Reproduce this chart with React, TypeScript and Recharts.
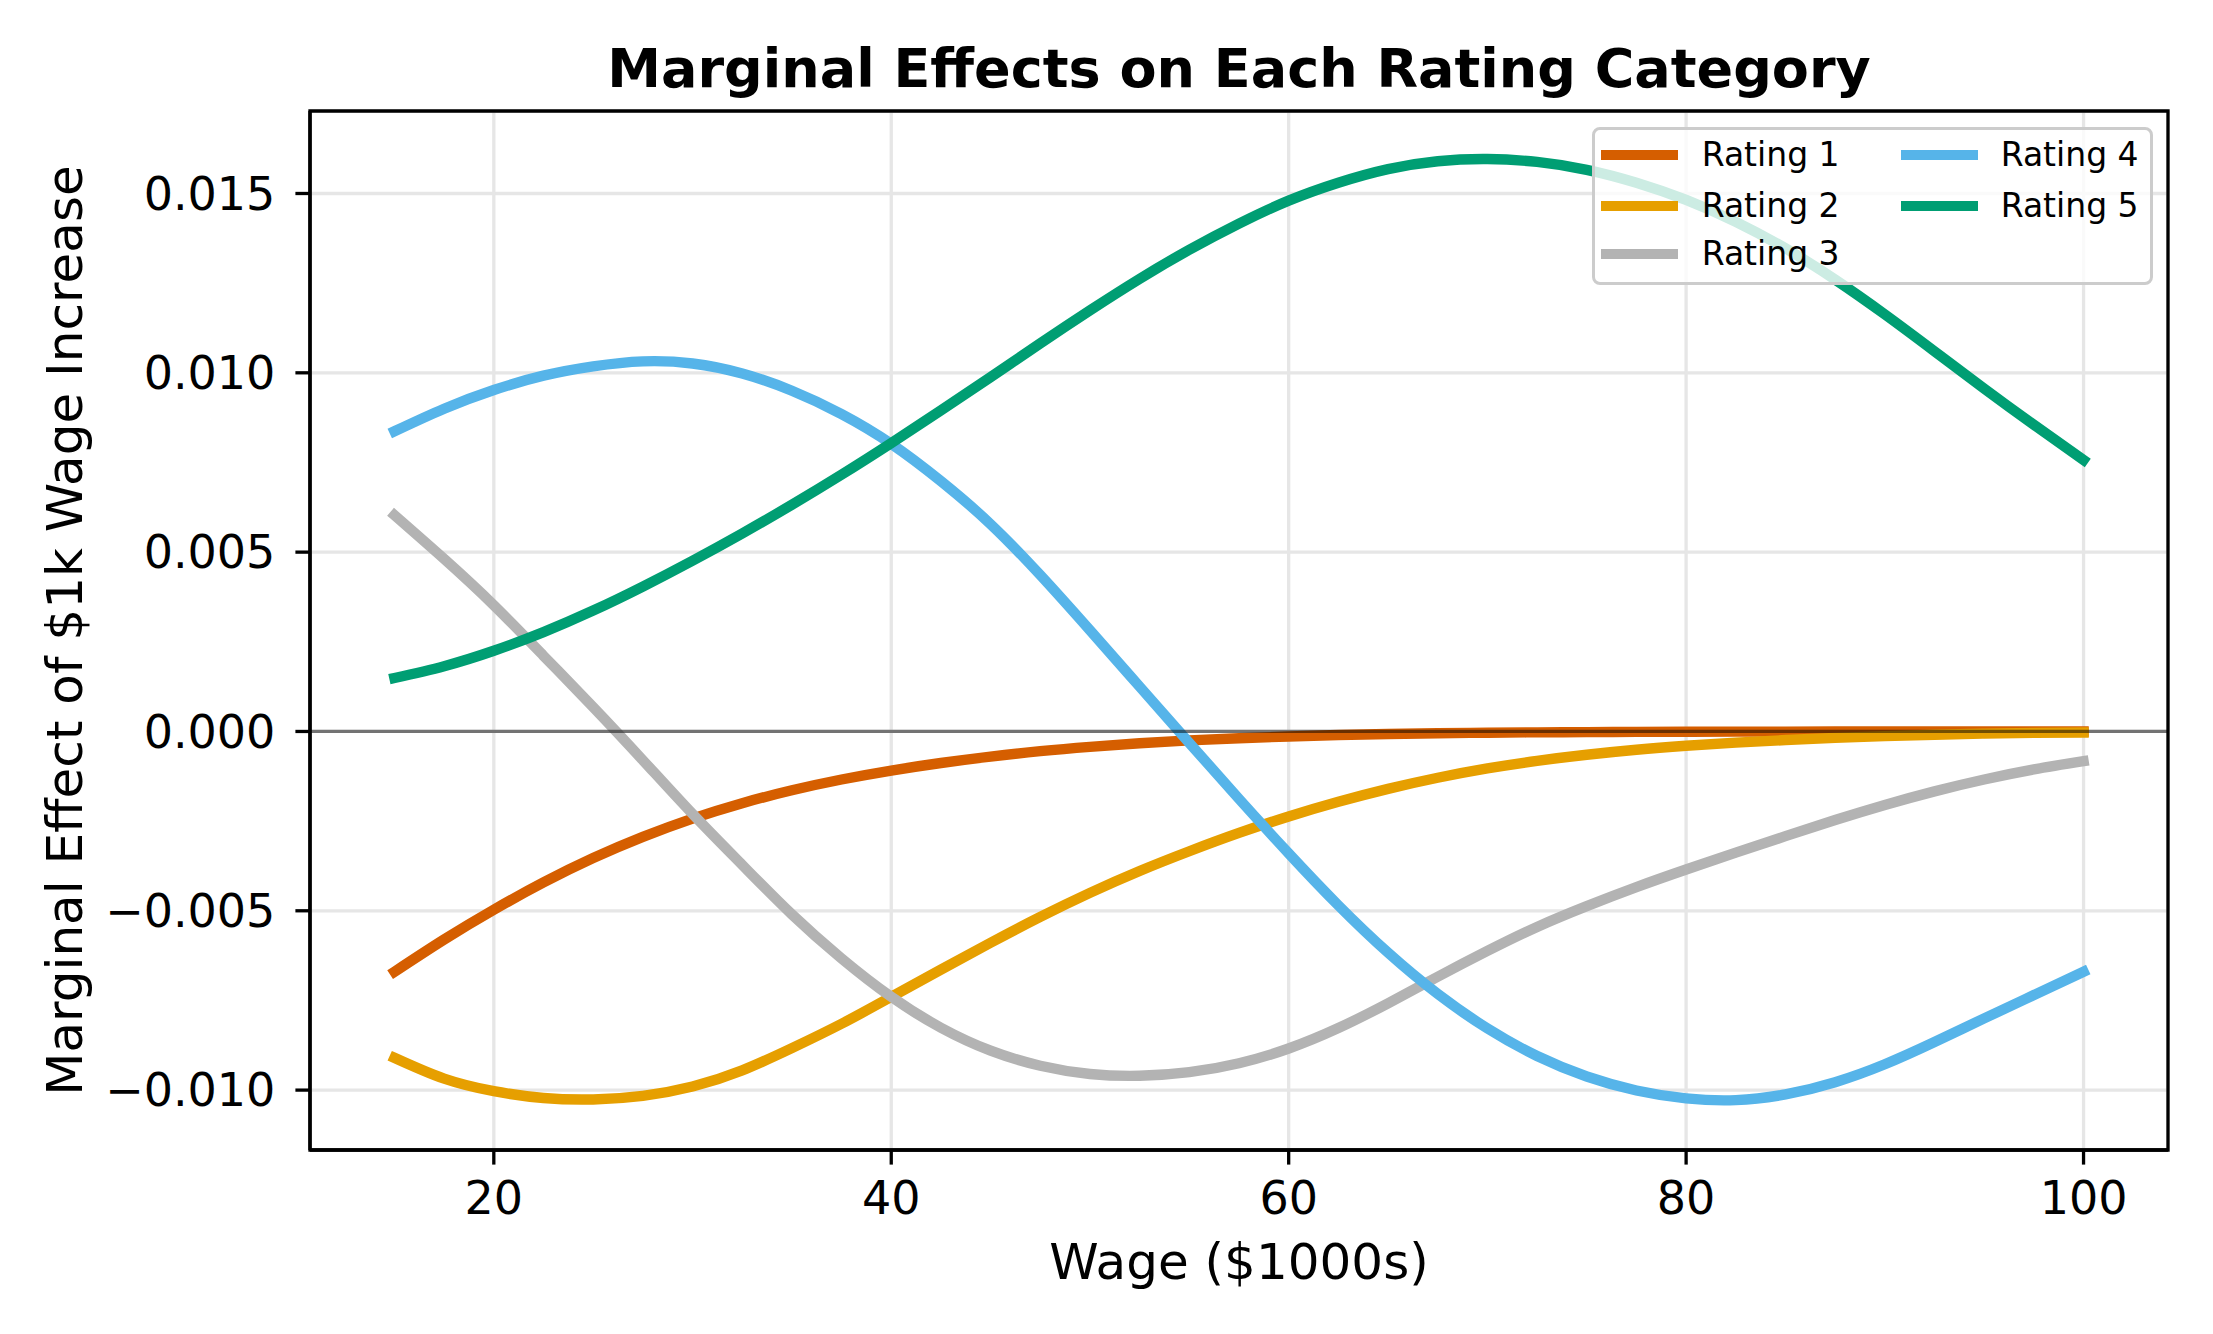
import React from 'react';
import { LineChart, Line, XAxis, YAxis, CartesianGrid, ReferenceLine, ReferenceArea } from 'recharts';

// wage grid ($1000s) and marginal effects
const wage = [15, 17.5, 20, 22.5, 25, 27.5, 30, 32.5, 35, 37.5, 40, 42.5, 45, 47.5, 50, 52.5, 55, 57.5, 60, 62.5, 65, 67.5, 70, 72.5, 75, 77.5, 80, 82.5, 85, 87.5, 90, 92.5, 95, 97.5, 100];

const rating1 = [-0.0067, -0.0058, -0.00497, -0.00421, -0.00353, -0.00294, -0.00243, -0.002, -0.00164, -0.00134, -0.00109, -0.00088, -0.0007, -0.00055, -0.00043, -0.00033, -0.00025, -0.00019, -0.00014, -0.0001, -0.00007, -0.00005, -0.000035, -0.000025, -0.000018, -0.000012, -0.000008, -0.000005, -0.000004, -0.000003, -0.000002, -0.000002, -0.000001, -0.000001, -0.000001];
const rating2 = [-0.0091, -0.00968, -0.01003, -0.01022, -0.01026, -0.01016, -0.0099, -0.00945, -0.00883, -0.00815, -0.0074, -0.00664, -0.00589, -0.00517, -0.0045, -0.00389, -0.00334, -0.00283, -0.00237, -0.00196, -0.0016, -0.00129, -0.00103, -0.00082, -0.00065, -0.00051, -0.0004, -0.00031, -0.00024, -0.00018, -0.00013, -0.00009, -0.00006, -0.00004, -0.00003];
const rating3 = [0.00603, 0.00481, 0.00352, 0.00211, 0.00068, -0.0008, -0.0023, -0.00372, -0.0051, -0.00633, -0.0074, -0.00826, -0.0089, -0.00932, -0.00955, -0.0096, -0.0095, -0.00925, -0.00884, -0.00827, -0.00758, -0.00684, -0.00612, -0.00545, -0.00487, -0.00434, -0.00385, -0.00338, -0.00292, -0.00247, -0.00205, -0.00167, -0.00134, -0.00106, -0.00083];
const rating4 = [0.00837, 0.009, 0.00952, 0.00992, 0.01018, 0.01032, 0.01026, 0.00998, 0.0095, 0.00885, 0.00802, 0.00698, 0.00578, 0.00436, 0.00282, 0.00125, -0.00032, -0.00188, -0.0034, -0.00485, -0.00617, -0.00732, -0.00828, -0.00905, -0.00962, -0.01001, -0.01023, -0.01028, -0.01012, -0.00978, -0.00928, -0.00866, -0.008, -0.00735, -0.0067];
const rating5 = [0.00149, 0.00182, 0.00225, 0.00277, 0.00337, 0.00404, 0.00476, 0.00552, 0.00632, 0.00716, 0.00804, 0.00895, 0.00988, 0.01082, 0.01174, 0.01262, 0.01343, 0.01416, 0.0148, 0.0153, 0.01568, 0.0159, 0.01596, 0.01588, 0.01566, 0.0153, 0.01482, 0.01421, 0.01347, 0.0126, 0.01163, 0.0106, 0.00956, 0.00855, 0.00757];

const xTicks = [20, 40, 60, 80, 100];
const yTicks = [-0.01, -0.005, 0, 0.005, 0.01, 0.015];

const seriesNames = ['Rating 1', 'Rating 2', 'Rating 3', 'Rating 4', 'Rating 5'];
const seriesKeys = ['r1', 'r2', 'r3', 'r4', 'r5'];
const seriesColors = ['#D55E00', '#E69F00', '#B3B3B3', '#56B4E9', '#009E73'];

const data = wage.map((w, i) => ({
  wage: w,
  r1: rating1[i],
  r2: rating2[i],
  r3: rating3[i],
  r4: rating4[i],
  r5: rating5[i],
}));

const X_DOMAIN: [number, number] = [10.75, 104.25];
const Y_DOMAIN: [number, number] = [-0.01167, 0.0173];

const FONT = '"DejaVu Sans", sans-serif';

const formatY = (v: number) => {
  if (Math.abs(v) < 1e-12) return '0.000';
  return v < 0 ? `\u2212${Math.abs(v).toFixed(3)}` : v.toFixed(3);
};

// legend slots: column-major, 3 rows then 2
const legendSlots = [
  { col: 0, row: 0 },
  { col: 0, row: 1 },
  { col: 0, row: 2 },
  { col: 1, row: 0 },
  { col: 1, row: 1 },
];
const rowCenters = [28.5, 79.5, 127.5];
const handleLeft = [9, 309];
const textLeft = [110, 409];

const ChartLegend: React.FC = () => (
  <div
    style={{
      position: 'absolute',
      left: 1592,
      top: 127,
      width: 561,
      height: 158,
      boxSizing: 'border-box',
      border: '3.3px solid #cccccc',
      borderRadius: 8,
      background: 'rgba(255,255,255,0.8)',
      fontFamily: FONT,
      fontSize: 33,
      color: '#000',
    }}
  >
    {seriesNames.map((name, i) => {
      const slot = legendSlots[i];
      const cy = rowCenters[slot.row] - 3.3;
      return (
        <React.Fragment key={name}>
          <div
            style={{
              position: 'absolute',
              left: handleLeft[slot.col] - 3.3,
              top: cy - 5.2,
              width: 77,
              height: 10.4,
              background: seriesColors[i],
            }}
          />
          <div
            style={{
              position: 'absolute',
              left: textLeft[slot.col] - 3.3,
              top: cy - 20,
              height: 40,
              lineHeight: '40px',
              whiteSpace: 'nowrap',
            }}
          >
            {name}
          </div>
        </React.Fragment>
      );
    })}
  </div>
);

const App: React.FC = () => {
  return (
    <div style={{ position: 'absolute', left: 0, top: 0, width: 2213, height: 1334, background: '#fff', fontFamily: FONT }}>
      <div
        style={{
          position: 'absolute',
          left: 310,
          top: 37,
          width: 1858,
          height: 64,
          lineHeight: '64px',
          textAlign: 'center',
          fontSize: 54,
          fontWeight: 'bold',
          color: '#000',
          whiteSpace: 'nowrap',
        }}
      >
        Marginal Effects on Each Rating Category
      </div>
      <LineChart
        width={2213}
        height={1334}
        data={data}
        margin={{ top: 111, right: 45, bottom: 44, left: 60 }}
      >
        <CartesianGrid stroke="#e6e6e6" strokeWidth={3.3} />
        <XAxis
          dataKey="wage"
          type="number"
          domain={X_DOMAIN}
          ticks={xTicks}
          allowDataOverflow
          height={140}
          tickSize={14.6}
          tickMargin={17}
          tick={{ fill: '#000', fontSize: 46, fontFamily: FONT }}
          tickLine={{ stroke: '#000', strokeWidth: 3.3 }}
          axisLine={{ stroke: '#000', strokeWidth: 3.3 }}
          label={{ value: 'Wage ($1000s)', position: 'insideBottom', offset: 11, fill: '#000', fontSize: 50, fontFamily: FONT }}
        />
        <YAxis
          type="number"
          domain={Y_DOMAIN}
          ticks={yTicks}
          allowDataOverflow
          width={250}
          tickSize={14.6}
          tickMargin={20}
          tickFormatter={formatY}
          tick={{ fill: '#000', fontSize: 46, fontFamily: FONT }}
          tickLine={{ stroke: '#000', strokeWidth: 3.3 }}
          axisLine={{ stroke: '#000', strokeWidth: 3.3 }}
          label={{
            value: 'Marginal Effect of $1k Wage Increase',
            angle: -90,
            position: 'insideLeft',
            offset: 4,
            fill: '#000',
            fontSize: 50,
            fontFamily: FONT,
            style: { textAnchor: 'middle' },
          }}
        />
        {seriesKeys.map((key, i) => (
          <Line
            key={key}
            dataKey={key}
            name={seriesNames[i]}
            type="natural"
            stroke={seriesColors[i]}
            strokeWidth={10.4}
            strokeLinecap="square"
            strokeLinejoin="round"
            dot={false}
            activeDot={false}
            isAnimationActive={false}
          />
        ))}
        <ReferenceLine y={0} stroke="#000" strokeOpacity={0.5} strokeWidth={3.3} />
        <ReferenceArea
          x1={X_DOMAIN[0]}
          x2={X_DOMAIN[1]}
          y1={Y_DOMAIN[0]}
          y2={Y_DOMAIN[1]}
          fill="none"
          stroke="#000"
          strokeWidth={3.3}
          ifOverflow="visible"
        />
      </LineChart>
      <ChartLegend />
    </div>
  );
};

export default App;
